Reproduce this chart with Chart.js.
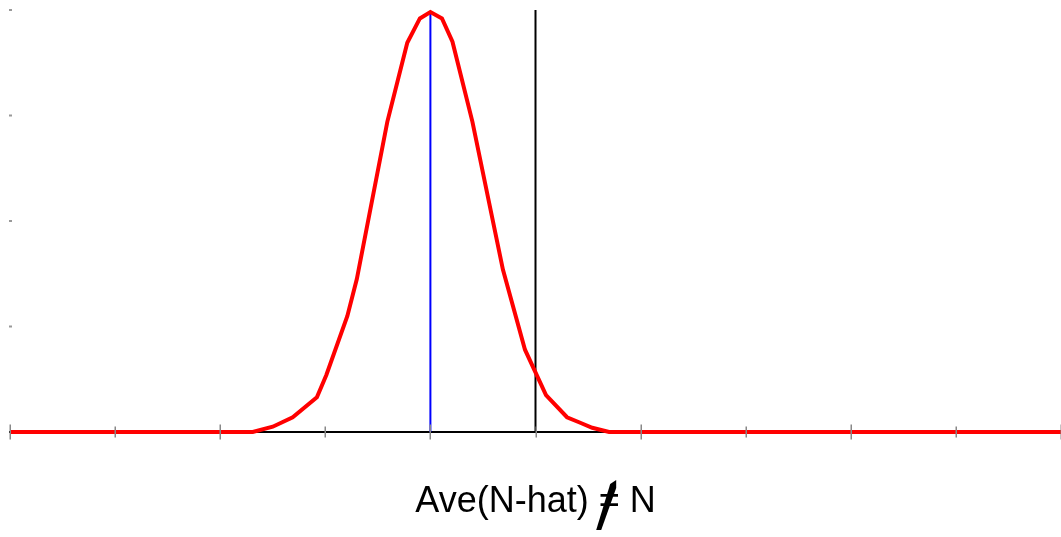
<!DOCTYPE html>
<html>
<head>
<meta charset="utf-8">
<script src="https://cdn.jsdelivr.net/npm/chart.js@4/dist/chart.umd.min.js"></script>
<style>
    html, body { margin: 0; padding: 0; background: #fff; }
    #wrap { width: 1061px; height: 537px; }
</style>
</head>
<body>
<div id="wrap"><canvas id="chart"></canvas></div>
<script>
const curveX = [0, 2.31, 2.50, 2.69, 2.92, 3.01, 3.21, 3.30, 3.59, 3.78, 3.90, 4.00, 4.11, 4.21, 4.40, 4.69, 4.90, 5.10, 5.30, 5.42, 5.54, 5.70, 10];
const curveY = [0, 0, 0.05, 0.14, 0.33, 0.54, 1.10, 1.45, 2.94, 3.69, 3.92, 3.98, 3.92, 3.70, 2.94, 1.54, 0.78, 0.35, 0.14, 0.09, 0.04, 0, 0];

// Marker lines
const meanX = 4;      // blue: Ave(N-hat)
const trueX = 5;      // black: N
const meanTop = 3.98;
const trueTop = 4.02;

// Ticks
const xTicks = [0, 1, 2, 3, 4, 5, 6, 7, 8, 9, 10];
const yTicks = [1, 2, 3, 4];
const axisLabel = ['Ave(N-hat) ', '=', ' N'];

const toPoints = (xs, ys) => xs.map((x, i) => ({ x: x, y: ys[i] }));

// ticks that cross the axis line + small marks on the left
const tickPlugin = {
    id: 'tickPlugin',
    afterDatasetsDraw(chart) {
        const { ctx, scales: { x, y } } = chart;
        const y0 = y.getPixelForValue(0);
        const x0 = x.getPixelForValue(0);
        ctx.save();
        ctx.strokeStyle = '#888';
        ctx.lineWidth = 1.5;
        xTicks.forEach(v => {
            const px = Math.round(x.getPixelForValue(v)) + 0.25;
            const half = v % 2 === 0 ? 7.5 : 5.5;
            ctx.beginPath();
            ctx.moveTo(px, y0 - half);
            ctx.lineTo(px, y0 + half);
            ctx.stroke();
        });
        ctx.fillStyle = '#999';
        yTicks.forEach(v => {
            const py = y.getPixelForValue(v);
            ctx.fillRect(x0 - 1, py - 1, 3, 2);
        });
        ctx.restore();
    }
};

// x label with a thick hand drawn slash through the "="
const labelPlugin = {
    id: 'labelPlugin',
    afterDraw(chart) {
        const { ctx, chartArea } = chart;
        ctx.save();
        ctx.font = '36px "Liberation Sans", Arial, sans-serif';
        ctx.fillStyle = '#000';
        ctx.textBaseline = 'alphabetic';
        const full = axisLabel.join('');
        const w = ctx.measureText(full).width;
        const cx = (chartArea.left + chartArea.right) / 2;
        const startX = cx - w / 2;
        const base = 512;
        ctx.fillText(full, startX, base);

        const eqLeft = startX + ctx.measureText(axisLabel[0]).width;
        const eqMid = eqLeft + ctx.measureText(axisLabel[1]).width / 2;
        ctx.beginPath();
        ctx.moveTo(eqMid - 13, base + 18);
        ctx.lineTo(eqMid - 8, base + 18);
        ctx.lineTo(eqMid + 7, base - 24);
        ctx.lineTo(eqMid + 7, base - 32);
        ctx.lineTo(eqMid + 1, base - 28);
        ctx.closePath();
        ctx.fill();
        ctx.restore();
    }
};

new Chart(document.getElementById('chart'), {
    type: 'scatter',
    data: {
        datasets: [
            {
                data: [{ x: meanX, y: 0 }, { x: meanX, y: meanTop }],
                showLine: true,
                borderColor: '#0000ff',
                borderWidth: 2,
                pointRadius: 0,
                order: 2
            },
            {
                data: [{ x: trueX, y: 0 }, { x: trueX, y: trueTop }],
                showLine: true,
                borderColor: '#000',
                borderWidth: 2,
                pointRadius: 0,
                order: 2
            },
            {
                data: toPoints(curveX, curveY),
                showLine: true,
                borderColor: '#ff0000',
                borderWidth: 4,
                pointRadius: 0,
                tension: 0,
                clip: false,
                order: 1
            }
        ]
    },
    options: {
        responsive: true,
        maintainAspectRatio: false,
        animation: false,
        events: [],
        layout: { padding: { left: 2, top: 10, right: 0, bottom: 97 } },
        plugins: {
            legend: { display: false },
            tooltip: { enabled: false }
        },
        scales: {
            x: {
                type: 'linear',
                min: 0,
                max: 10,
                grid: { display: false },
                ticks: { display: false },
                border: { display: true, color: '#000', width: 2 }
            },
            y: {
                min: 0,
                max: 4,
                grid: { display: false },
                ticks: { display: false },
                border: { display: false }
            }
        }
    },
    plugins: [tickPlugin, labelPlugin]
});
</script>
</body>
</html>
